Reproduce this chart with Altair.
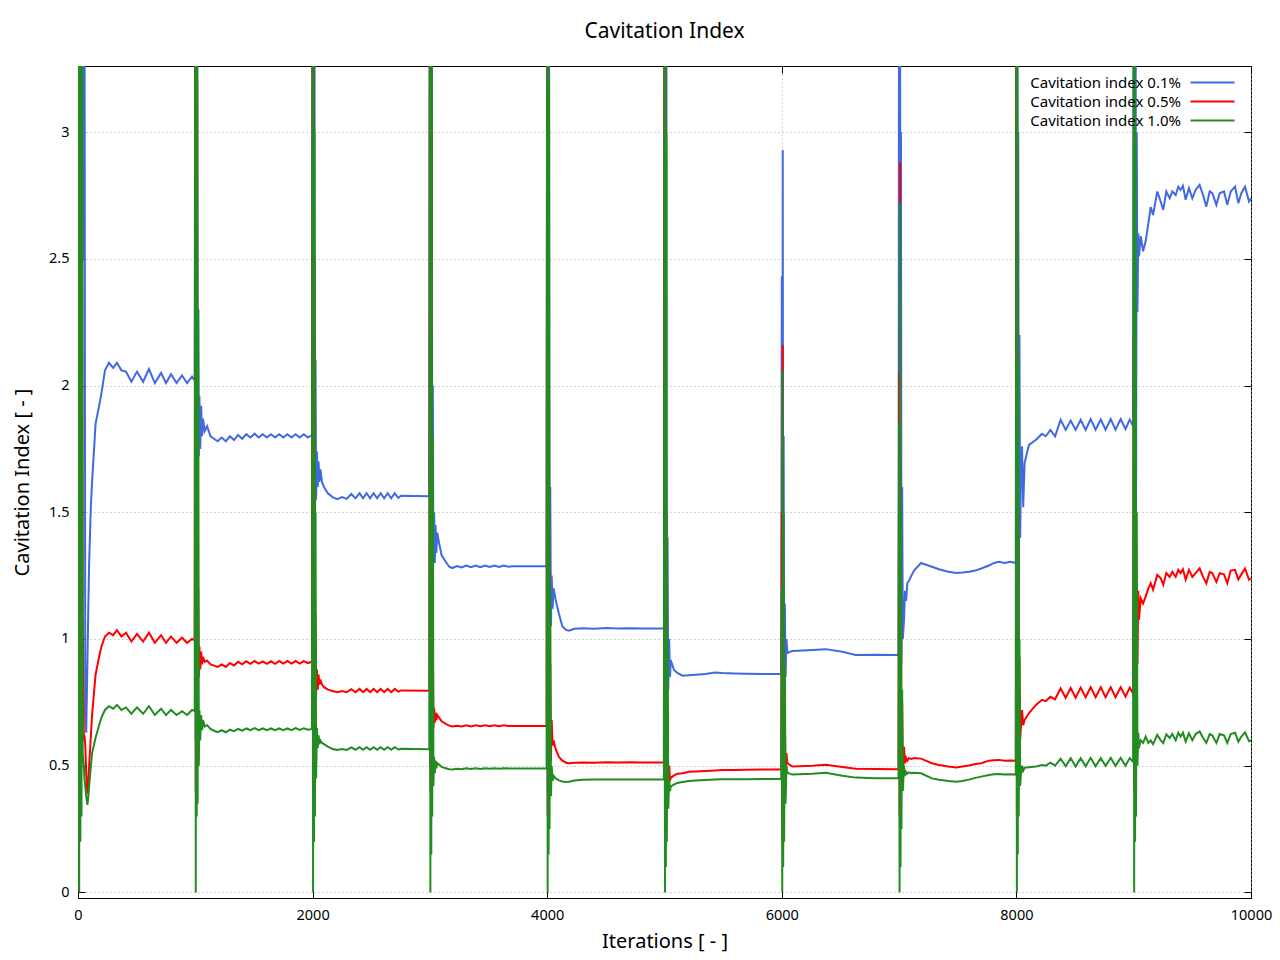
import altair as alt
import pandas as pd

FONT = "Noto Sans"

SERIES = ["Cavitation index 0.1%", "Cavitation index 0.5%", "Cavitation index 1.0%"]
COLORS = ["#4169e1", "#ff0000", "#228b22"]
X_TICKS = [0, 2000, 4000, 6000, 8000, 10000]
Y_TICKS = [0, 0.5, 1, 1.5, 2, 2.5, 3]

ITER = [
    0, 5, 10, 15, 20, 25, 30, 35, 40, 50, 55, 62, 70, 80, 87, 95, 110, 120, 150, 180, 200, 230, 264, 300, 332, 370, 409, 455, 503, 555, 605, 655, 708, 750, 793, 840, 887, 930, 972, 995,
    1000, 1004, 1008, 1012, 1016, 1020, 1025, 1030, 1035, 1042, 1050, 1058, 1066, 1080, 1100, 1130, 1160, 1190, 1225, 1260, 1295, 1330, 1365, 1400, 1435, 1470, 1505, 1540, 1575, 1610, 1645, 1680, 1715, 1750, 1785, 1820, 1855, 1890, 1925, 1960, 1995,
    2000, 2004, 2008, 2012, 2016, 2020, 2025, 2030, 2037, 2044, 2051, 2058, 2066, 2080, 2097, 2130, 2170, 2210, 2250, 2290, 2330, 2365, 2400, 2430, 2460, 2490, 2520, 2550, 2580, 2610, 2640, 2670, 2700, 2730, 2754, 2995,
    3000, 3004, 3008, 3012, 3016, 3020, 3025, 3030, 3036, 3042, 3048, 3055, 3063, 3078, 3100, 3135, 3165, 3191, 3230, 3270, 3310, 3350, 3390, 3430, 3470, 3510, 3550, 3590, 3630, 3670, 3703, 3995,
    4000, 4004, 4008, 4012, 4016, 4020, 4026, 4032, 4038, 4046, 4055, 4072, 4100, 4129, 4160, 4186, 4230, 4300, 4400, 4500, 4600, 4700, 4800, 4995,
    5000, 5004, 5008, 5012, 5016, 5020, 5026, 5032, 5040, 5047, 5053, 5081, 5110, 5152, 5209, 5266, 5350, 5430, 5493, 5600, 5692, 5850, 5995,
    6000, 6004, 6008, 6012, 6016, 6020, 6026, 6032, 6040, 6047, 6090, 6260, 6374, 6516, 6630, 6800, 6995,
    7000, 7004, 7008, 7012, 7016, 7020, 7026, 7032, 7042, 7050, 7060, 7070, 7084, 7105, 7127, 7187, 7280, 7340, 7420, 7485, 7540, 7596, 7650, 7700, 7766, 7810, 7852, 7900, 7950, 7995,
    8000, 8004, 8008, 8012, 8016, 8020, 8026, 8032, 8039, 8048, 8058, 8070, 8107, 8167, 8218, 8250, 8290, 8330, 8377, 8420, 8463, 8505, 8548, 8590, 8633, 8675, 8719, 8760, 8804, 8845, 8889, 8930, 8966, 8995,
    9000, 9004, 9008, 9012, 9016, 9020, 9026, 9032, 9039, 9045, 9060, 9080, 9102, 9125, 9145, 9165, 9201, 9230, 9252, 9278, 9307, 9329, 9358, 9380, 9400, 9420, 9443, 9471, 9500, 9528, 9562, 9591, 9619, 9648, 9670, 9705, 9733, 9770, 9798, 9827, 9864, 9892, 9918, 9949, 9983, 10000,
]

BLUE = [
    2.0, 4, 0.5, 4, 1.2, 4, 1.8, 4, 2.5, 4, 4, 0.7, 0.63, 0.9, 1.1, 1.3, 1.53, 1.62, 1.85, 1.92, 1.97, 2.06, 2.09, 2.07, 2.09, 2.06, 2.055, 2.015, 2.055, 2.015, 2.065, 2.01, 2.05, 2.01, 2.045, 2.01, 2.04, 2.01, 2.035, 2.02,
    4, 0.6, 4, 1.2, 4, 1.5, 2.3, 1.72, 1.96, 1.75, 1.92, 1.8, 1.87, 1.82, 1.84, 1.8, 1.79, 1.78, 1.795, 1.78, 1.8, 1.785, 1.805, 1.79, 1.808, 1.795, 1.81, 1.795, 1.808, 1.795, 1.808, 1.795, 1.808, 1.795, 1.808, 1.795, 1.808, 1.795, 1.808, 1.795, 1.805,
    4, 0.6, 4, 1.0, 4, 1.3, 2.1, 1.55, 1.74, 1.6, 1.7, 1.62, 1.67, 1.62, 1.6, 1.575, 1.56, 1.552, 1.56, 1.553, 1.572, 1.555, 1.575, 1.555, 1.575, 1.555, 1.575, 1.555, 1.575, 1.555, 1.575, 1.555, 1.575, 1.557, 1.565, 1.563,
    4, 0.5, 4, 0.9, 4, 1.1, 2.0, 1.3, 1.5, 1.3, 1.45, 1.34, 1.42, 1.38, 1.33, 1.305, 1.285, 1.28, 1.288, 1.282, 1.29, 1.283, 1.29, 1.283, 1.29, 1.284, 1.29, 1.284, 1.29, 1.285, 1.287, 1.287,
    4, 0.4, 4, 0.7, 3.5, 0.9, 1.6, 1.05, 1.25, 1.12, 1.2, 1.155, 1.1, 1.05, 1.036, 1.033, 1.04, 1.042, 1.04, 1.043, 1.041, 1.042, 1.041, 1.042,
    4, 0.4, 4, 0.7, 3.5, 0.8, 1.4, 0.8, 1.0, 0.85, 0.917, 0.878, 0.866, 0.855, 0.857, 0.859, 0.862, 0.868, 0.866, 0.864, 0.863, 0.862, 0.862,
    2.43, 0.3, 2.93, 0.5, 1.8, 0.6, 1.14, 0.85, 1.0, 0.945, 0.953, 0.957, 0.96, 0.95, 0.937, 0.938, 0.937,
    4, 0.5, 4, 0.8, 3.0, 0.9, 1.6, 1.0, 1.075, 1.19, 1.15, 1.22, 1.23, 1.25, 1.27, 1.30, 1.285, 1.275, 1.265, 1.26, 1.262, 1.265, 1.27, 1.278, 1.29, 1.3, 1.305, 1.3, 1.305, 1.3,
    4, 0.5, 4, 0.9, 3.0, 1.0, 2.2, 1.4, 1.66, 1.76, 1.52, 1.695, 1.766, 1.786, 1.81, 1.8, 1.825, 1.8, 1.865, 1.825, 1.862, 1.825, 1.865, 1.825, 1.868, 1.826, 1.866, 1.826, 1.868, 1.826, 1.868, 1.828, 1.866, 1.84,
    4, 0.5, 4, 1.0, 4, 1.5, 3.0, 2.29, 2.6, 2.51, 2.59, 2.53, 2.57, 2.64, 2.705, 2.673, 2.766, 2.726, 2.693, 2.766, 2.739, 2.766, 2.752, 2.785, 2.772, 2.788, 2.733, 2.779, 2.739, 2.772, 2.792, 2.752, 2.706, 2.766, 2.759, 2.713, 2.759, 2.766, 2.713, 2.766, 2.785, 2.72, 2.759, 2.785, 2.726, 2.739,
]

RED = [
    2.0, 4, 0.3, 4, 0.6, 4, 0.8, 3.0, 1.1, 0.6, 0.62, 0.58, 0.47, 0.39, 0.43, 0.5, 0.62, 0.7, 0.86, 0.93, 0.97, 1.01, 1.025, 1.015, 1.035, 1.01, 1.025, 0.99, 1.02, 0.99, 1.025, 0.985, 1.015, 0.985, 1.01, 0.985, 1.005, 0.985, 1.0, 0.995,
    4, 0.4, 4, 0.6, 3.2, 0.7, 1.2, 0.85, 0.97, 0.88, 0.95, 0.9, 0.93, 0.91, 0.915, 0.9, 0.895, 0.89, 0.9, 0.89, 0.905, 0.895, 0.91, 0.9, 0.912, 0.902, 0.913, 0.903, 0.912, 0.902, 0.912, 0.902, 0.913, 0.903, 0.913, 0.903, 0.913, 0.903, 0.913, 0.905, 0.91,
    4, 0.5, 3.8, 0.6, 2.5, 0.65, 1.1, 0.78, 0.88, 0.8, 0.86, 0.82, 0.84, 0.82, 0.81, 0.8, 0.795, 0.79, 0.795, 0.79, 0.802, 0.79, 0.803, 0.79, 0.803, 0.79, 0.803, 0.79, 0.803, 0.79, 0.803, 0.79, 0.803, 0.792, 0.797, 0.796,
    4, 0.4, 4, 0.5, 3.0, 0.55, 1.0, 0.65, 0.73, 0.67, 0.71, 0.68, 0.7, 0.69, 0.675, 0.665, 0.658, 0.655, 0.658, 0.655, 0.66, 0.655, 0.66, 0.656, 0.66, 0.656, 0.66, 0.656, 0.66, 0.657, 0.657, 0.657,
    4, 0.3, 4, 0.4, 2.0, 0.45, 0.9, 0.52, 0.68, 0.58, 0.6, 0.565, 0.535, 0.52, 0.512, 0.51, 0.512, 0.513, 0.512, 0.514, 0.513, 0.514, 0.513, 0.514,
    4, 0.3, 4, 0.35, 1.5, 0.4, 0.8, 0.42, 0.5, 0.44, 0.452, 0.462, 0.468, 0.47, 0.476, 0.477, 0.479, 0.481, 0.483, 0.483, 0.484, 0.485, 0.485,
    1.5, 0.2, 2.16, 0.3, 1.0, 0.35, 0.7, 0.42, 0.55, 0.51, 0.497, 0.5, 0.504, 0.495, 0.488, 0.487, 0.486,
    2.05, 0.3, 2.88, 0.35, 1.4, 0.4, 0.75, 0.45, 0.575, 0.51, 0.53, 0.52, 0.53, 0.527, 0.53, 0.528, 0.51, 0.503, 0.497, 0.493, 0.497, 0.501, 0.507, 0.51, 0.52, 0.522, 0.523, 0.52, 0.521, 0.52,
    4, 0.3, 2.94, 0.4, 1.5, 0.5, 0.93, 0.6, 0.655, 0.72, 0.66, 0.68, 0.708, 0.74, 0.76, 0.755, 0.772, 0.762, 0.805, 0.768, 0.807, 0.768, 0.808, 0.77, 0.81, 0.77, 0.81, 0.77, 0.81, 0.77, 0.81, 0.772, 0.808, 0.785,
    2.2, 0.4, 1.8, 0.5, 1.5, 0.6, 1.2, 0.9, 1.19, 1.076, 1.16, 1.14, 1.168, 1.2, 1.22, 1.194, 1.253, 1.24, 1.214, 1.26, 1.245, 1.265, 1.245, 1.273, 1.26, 1.275, 1.234, 1.273, 1.245, 1.26, 1.279, 1.245, 1.22, 1.265, 1.26, 1.225, 1.26, 1.255, 1.22, 1.27, 1.273, 1.235, 1.255, 1.278, 1.234, 1.24,
]

GREEN = [
    0.3, 4, 0.0, 4, 0.2, 4, 0.3, 4, 0.55, 0.5, 0.45, 0.42, 0.38, 0.345, 0.37, 0.42, 0.5, 0.55, 0.61, 0.66, 0.69, 0.72, 0.735, 0.725, 0.74, 0.72, 0.73, 0.705, 0.73, 0.705, 0.735, 0.7, 0.725, 0.7, 0.72, 0.7, 0.715, 0.7, 0.72, 0.715,
    4, 0.0, 4, 0.3, 3.5, 0.35, 2.3, 0.5, 0.72, 0.6, 0.7, 0.64, 0.68, 0.655, 0.66, 0.645, 0.638, 0.632, 0.64, 0.632, 0.642, 0.636, 0.645, 0.638, 0.647, 0.64, 0.648, 0.64, 0.647, 0.64, 0.647, 0.64, 0.647, 0.64, 0.647, 0.64, 0.648, 0.641, 0.648, 0.642, 0.645,
    4, 0.0, 4, 0.2, 3.0, 0.3, 1.5, 0.45, 0.65, 0.57, 0.62, 0.585, 0.6, 0.59, 0.585, 0.575, 0.566, 0.562, 0.566, 0.562, 0.572, 0.563, 0.573, 0.563, 0.573, 0.563, 0.573, 0.563, 0.573, 0.563, 0.573, 0.563, 0.573, 0.564, 0.567, 0.565,
    4, 0.0, 4, 0.15, 3.5, 0.3, 1.8, 0.42, 0.535, 0.47, 0.52, 0.49, 0.51, 0.505, 0.495, 0.49, 0.486, 0.485, 0.488, 0.486, 0.49, 0.487, 0.49, 0.487, 0.49, 0.488, 0.49, 0.488, 0.49, 0.489, 0.489, 0.489,
    4, 0.0, 4, 0.15, 3.2, 0.25, 1.2, 0.38, 0.5, 0.44, 0.46, 0.45, 0.442, 0.438, 0.436, 0.437, 0.442, 0.445, 0.446, 0.446, 0.446, 0.446, 0.446, 0.446,
    4, 0.0, 4, 0.1, 3.0, 0.2, 1.0, 0.33, 0.45, 0.4, 0.418, 0.426, 0.432, 0.436, 0.44, 0.442, 0.444, 0.446, 0.447, 0.447, 0.447, 0.448, 0.448,
    1.2, 0.0, 2.06, 0.1, 1.5, 0.2, 0.9, 0.35, 0.5, 0.472, 0.465, 0.468, 0.472, 0.46, 0.453, 0.451, 0.451,
    1.85, 0.0, 2.72, 0.1, 1.5, 0.25, 0.8, 0.4, 0.5, 0.46, 0.475, 0.468, 0.474, 0.47, 0.472, 0.47, 0.45, 0.445, 0.44, 0.437, 0.44, 0.445, 0.452, 0.457, 0.463, 0.466, 0.467, 0.465, 0.466, 0.465,
    4, 0.0, 4, 0.15, 2.1, 0.3, 1.0, 0.42, 0.47, 0.5, 0.48, 0.492, 0.494, 0.497, 0.503, 0.5, 0.512, 0.5, 0.528, 0.498, 0.53, 0.497, 0.53, 0.498, 0.531, 0.498, 0.53, 0.499, 0.531, 0.499, 0.531, 0.5, 0.53, 0.515,
    4, 0.0, 4, 0.2, 3.0, 0.3, 1.5, 0.5, 0.63, 0.57, 0.6, 0.59, 0.615, 0.59, 0.6, 0.585, 0.622, 0.6, 0.589, 0.624, 0.61, 0.625, 0.6, 0.63, 0.615, 0.63, 0.595, 0.628, 0.6, 0.625, 0.635, 0.61, 0.59, 0.625, 0.62, 0.59, 0.625, 0.62, 0.59, 0.625, 0.63, 0.595, 0.615, 0.632, 0.597, 0.6,
]

assert len(ITER) == len(BLUE) == len(RED) == len(GREEN), (len(ITER), len(BLUE), len(RED), len(GREEN))

df = pd.DataFrame({"it": ITER, SERIES[0]: BLUE, SERIES[1]: RED, SERIES[2]: GREEN})
long = df.melt("it", var_name="series", value_name="v")

X_SCALE = alt.Scale(domain=[0, 10000], nice=False, zero=False)
Y_SCALE = alt.Scale(domain=[-0.022, 3.261], nice=False, zero=False)
TICK = dict(ticks=True, tickSize=7, tickColor="black", tickWidth=1, offset=-7, domain=False)

x_main = alt.Axis(
    values=X_TICKS, format="d", title="Iterations [ - ]",
    titleX=586.5, titleY=56, titleAlign="center", titleBaseline="alphabetic",
    titleFont=FONT, titleFontSize=20, titleFontWeight="normal", titleColor="black",
    labelFont=FONT, labelFontSize=14.5, labelColor="black", labelPadding=10,
    labelFlush=False, labelOverlap=False,
    grid=True, gridDash=[1, 3], gridColor="#aaaaaa", gridWidth=1, **TICK,
)
y_main = alt.Axis(
    values=Y_TICKS, format=".1~f", title="Cavitation Index [ - ]",
    titleX=-63, titleY=416, titleAngle=270, titleAlign="center", titleBaseline="middle",
    titleFont=FONT, titleFontSize=20, titleFontWeight="normal", titleColor="black",
    labelFont=FONT, labelFontSize=14.5, labelColor="black", labelPadding=9,
    labelFlush=False, labelOverlap=False,
    grid=True, gridDash=[1, 3], gridColor="#aaaaaa", gridWidth=1, **TICK,
)
x_top = alt.Axis(orient="top", values=X_TICKS, labels=False, grid=False, title=None, **TICK)
y_right = alt.Axis(orient="right", values=Y_TICKS, labels=False, grid=False, title=None, **TICK)

color_enc = alt.Color(
    "series:N",
    scale=alt.Scale(domain=SERIES, range=COLORS),
    legend=alt.Legend(
        title=None, orient="none", legendX=1084, legendY=9, direction="vertical",
        symbolType="M4.2,0H13", symbolSize=100, symbolStrokeWidth=2,
        labelAlign="right", labelBaseline="middle",
        labelFont=FONT, labelFontSize=15, labelColor="black", labelLimit=400,
        rowPadding=3, padding=0,
    ),
)

AXES = [(x_main, y_main), (x_top, y_right), (None, None)]

layers = []
for s, (xa, ya) in zip(SERIES, AXES):
    layers.append(
        alt.Chart(long)
        .transform_filter(alt.datum.series == s)
        .mark_line(clip=True, strokeWidth=2)
        .encode(
            x=alt.X("it:Q", scale=X_SCALE, axis=xa, title="Iterations [ - ]"),
            y=alt.Y("v:Q", scale=Y_SCALE, axis=ya, title="Cavitation Index [ - ]"),
            color=color_enc,
        )
    )

chart = (
    alt.layer(*layers)
    .resolve_axis(x="independent", y="independent")
    .properties(
        width=1173, height=832,
        title=alt.TitleParams(
            "Cavitation Index", font=FONT, fontSize=21, fontWeight="normal",
            color="black", anchor="middle", offset=24,
        ),
        padding={"left": 70, "top": 58, "right": 21, "bottom": 54},
        autosize="none",
        background="white",
    )
    .configure_view(stroke="black", strokeWidth=1)
)

chart.save("out.html", embed_options={"renderer": "svg", "actions": False})
